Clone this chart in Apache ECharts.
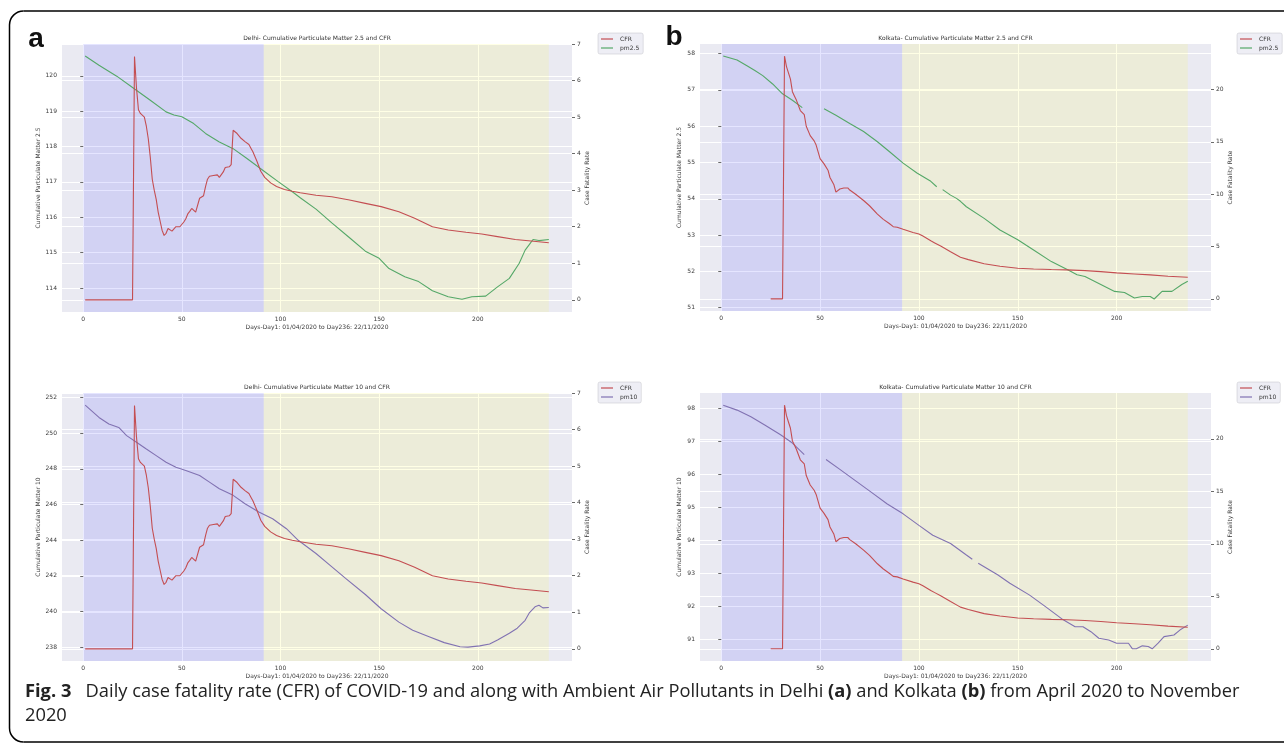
<!DOCTYPE html>
<html><head><meta charset="utf-8">
<script src="https://cdn.jsdelivr.net/npm/echarts@6.0.0/dist/echarts.min.js"></script>
<style>html,body{margin:0;padding:0;background:#fff;overflow:hidden;}#c{width:1284px;height:747px;}</style>
</head><body><div id="c"></div>
<script>
// ---------------- data ----------------
const xTicks = [0, 50, 100, 150, 200];
const delhiPm25Ticks = [114, 115, 116, 117, 118, 119, 120];
const delhiPm10Ticks = [238, 240, 242, 244, 246, 248, 250, 252];
const delhiCfrTicks = [0, 1, 2, 3, 4, 5, 6, 7];
const kolkataPm25Ticks = [51, 52, 53, 54, 55, 56, 57, 58];
const kolkataPm10Ticks = [91, 92, 93, 94, 95, 96, 97, 98];
const kolkataCfrTicks = [0, 5, 10, 15, 20];

const delhiCfrDays = [1,25,26,27,28,29,31,32,33,34,35,36,37,38,39,40,41,42,43,44,45,46,47,48,49,50,51,52,53,54,55,56,57,58,59,60,61,62,63,64,66,68,69,70,71,72,73,74,75,76,77,78,80,82,84,85,86,88,90,92,95,98,102,106,110,118,126,135,143,151,160,168,177,185,194,202,210,219,227,236];
const delhiCfr = [0,0,6.66,5.8,5.2,5.1,5.0,4.75,4.4,3.9,3.3,3.0,2.75,2.4,2.15,1.9,1.76,1.82,1.95,1.92,1.88,1.85,2.0,2.04,2.0,2.02,2.13,2.22,2.35,2.42,2.5,2.45,2.4,2.37,2.78,2.8,2.85,3.1,3.3,3.38,3.4,3.42,3.35,3.38,3.5,3.62,3.66,3.64,3.7,4.64,4.6,4.55,4.42,4.33,4.25,4.15,4.05,3.8,3.52,3.35,3.2,3.1,3.02,2.97,2.93,2.86,2.82,2.73,2.64,2.55,2.41,2.23,2.0,1.91,1.85,1.8,1.73,1.65,1.61,1.56];

const delhiPm25Days = [1,8,17,25,34,42,46,50,56,62,69,76,83,91,99,106,110,118,126,135,143,150,155,163,170,177,185,192,197,204,210,216,221,224,226,228,231,236];
const delhiPm25 = [120.56,120.3,119.99,119.67,119.31,118.98,118.89,118.84,118.65,118.37,118.13,117.94,117.66,117.33,117.0,116.72,116.55,116.23,115.84,115.42,115.04,114.84,114.55,114.32,114.18,113.92,113.75,113.68,113.75,113.77,114.03,114.27,114.7,115.07,115.22,115.37,115.34,115.37];

const delhiPm10Days = [1,8,13,18,22,27,32,37,42,47,52,59,64,69,76,82,89,96,103,109,118,125,133,143,151,160,167,175,183,191,195,201,206,210,216,220,224,226,229,231,233,236];
const delhiPm10 = [251.57,250.88,250.51,250.32,249.86,249.49,249.11,248.74,248.37,248.09,247.9,247.62,247.25,246.88,246.51,246.04,245.58,245.2,244.64,243.99,243.25,242.6,241.85,240.95,240.15,239.4,238.95,238.6,238.25,238.02,238.0,238.07,238.17,238.4,238.78,239.06,239.5,239.9,240.26,240.35,240.2,240.22];

const kolkataCfrDays = [25,31,32,33,34,35,36,37,38,40,42,43,45,47,48,50,52,54,55,57,58,60,62,64,65,68,72,75,79,82,85,87,89,90,92,97,100,102,106,108,111,116,121,125,133,141,150,158,167,175,184,192,200,209,217,226,236];
const kolkataCfr = [0,0,23.2,22.2,21.6,21.0,19.8,19.4,19.0,18.0,17.6,16.5,15.6,15.1,14.7,13.4,12.9,12.3,11.6,10.9,10.2,10.5,10.6,10.6,10.4,10.0,9.4,8.9,8.1,7.6,7.2,6.9,6.85,6.95,6.65,6.35,6.2,6.0,5.55,5.35,5.05,4.5,3.97,3.75,3.35,3.12,2.93,2.86,2.8,2.77,2.7,2.6,2.48,2.38,2.29,2.16,2.06];

const kolkataPm25Days = [1,8,13,17,21,26,31,36,41,42,52,58,65,72,79,85,92,99,106,109,110,112,116,119,121,124,133,141,150,158,167,175,180,184,192,199,204,209,213,217,219,223,228,233,236];
const kolkataPm25 = [57.93,57.82,57.66,57.53,57.39,57.16,56.89,56.71,56.51,null,56.48,56.3,56.07,55.85,55.57,55.3,54.98,54.71,54.48,54.33,null,54.25,54.1,54.01,53.93,53.78,53.46,53.14,52.87,52.59,52.27,52.05,51.91,51.86,51.64,51.45,51.42,51.27,51.31,51.31,51.24,51.45,51.45,51.64,51.73];

const kolkataPm10Days = [1,8,15,22,30,36,42,43,53,60,68,76,84,92,100,107,116,124,127,128,130,140,146,156,164,173,179,183,187,191,196,200,206,208,210,213,216,218,221,224,229,232,236];
const kolkataPm10 = [98.1,97.95,97.75,97.5,97.2,96.95,96.6,null,96.45,96.15,95.8,95.45,95.1,94.8,94.45,94.15,93.9,93.55,93.42,null,93.3,92.94,92.69,92.33,91.98,91.58,91.37,91.37,91.22,91.02,90.97,90.87,90.87,90.7,90.7,90.79,90.77,90.7,90.87,91.07,91.12,91.27,91.42];

const spanBlue = [0, 91.5];
const spanYellow = [91.5, 236];

// ---------------- styling / layout ----------------
const FONT = 'DejaVu Sans';
const tickFont = {fontFamily: FONT, fontSize: 6, color: '#3a3a3a'};
const RED = '#C44E52', GREEN = '#55A868', PURPLE = '#8172B2';
const xName = 'Days-Day1: 01/04/2020 to Day236: 22/11/2020';
const grids = [
  {left: 62, top: 44, width: 510, height: 268},
  {left: 700, top: 44, width: 511, height: 267},
  {left: 62, top: 393, width: 510, height: 268},
  {left: 700, top: 393, width: 511, height: 268}
];

function pairs(d, v) { return d.map((x, i) => [x, v[i] == null ? '-' : v[i]]); }

function xAx(g) {
  return {type: 'value', gridIndex: g, min: -10.75, max: 247.75,
    axisLine: {show: false}, axisTick: {show: false, customValues: xTicks},
    axisLabel: Object.assign({customValues: xTicks, margin: 4}, tickFont),
    splitLine: {show: true, lineStyle: {color: '#ffffff', width: 1}},
    name: xName, nameLocation: 'middle', nameGap: 12, nameTextStyle: Object.assign({}, tickFont)};
}
function yAx(g, side, min, max, ticks, name, nameGap) {
  return {type: 'value', gridIndex: g, position: side, min: min, max: max,
    axisLine: {show: false},
    axisTick: {show: true, length: 3, customValues: ticks, lineStyle: {color: '#444', width: 0.8}},
    axisLabel: Object.assign({customValues: ticks, margin: 5}, tickFont),
    splitLine: {show: true, lineStyle: {color: '#ffffff', width: 1}},
    name: name, nameLocation: 'middle', nameGap: nameGap, nameRotate: 90,
    nameTextStyle: Object.assign({}, tickFont)};
}
function line(name, xi, yi, pts, color, z) {
  return {type: 'line', name: name, xAxisIndex: xi, yAxisIndex: yi, data: pts,
    showSymbol: false, symbol: 'none', connectNulls: false, z: z,
    lineStyle: {color: color, width: 1.1}, itemStyle: {color: color}, emphasis: {disabled: true}};
}
function spans(xi, yi) {
  return {type: 'line', xAxisIndex: xi, yAxisIndex: yi, data: [], silent: true, z: 1,
    markArea: {silent: true, data: [
      [{xAxis: spanBlue[0], itemStyle: {color: 'rgba(0,0,255,0.1)'}}, {xAxis: spanBlue[1]}],
      [{xAxis: spanYellow[0], itemStyle: {color: 'rgba(255,255,0,0.1)'}}, {xAxis: spanYellow[1]}]
    ]}};
}
function legendAt(left, top, names) {
  return {data: names, left: left, top: top, orient: 'vertical', icon: 'rect',
    itemWidth: 12, itemHeight: 1.2, itemGap: 3, padding: [3, 4, 3, 3],
    backgroundColor: 'rgba(234,234,242,0.8)', borderColor: 'rgba(200,200,205,0.9)',
    borderWidth: 0.6, borderRadius: 2, selectedMode: false,
    textStyle: {fontFamily: FONT, fontSize: 6, color: '#333', padding: [0, 0, 0, 2]}};
}
function textEl(x, y, text, size, extra) {
  return Object.assign({type: 'text', x: x, y: y, silent: true,
    style: Object.assign({text: text, fontFamily: FONT, fontSize: size, fill: '#333',
      align: 'center', verticalAlign: 'middle', textAlign: 'center', textVerticalAlign: 'middle'}, extra || {})});
}
const frameStyle = {fill: 'none', stroke: '#000', lineWidth: 1.5};
const CAP = 'Open Sans', CAPSIZE = 18.3;

const option = {
  animation: false,
  backgroundColor: '#ffffff',
  textStyle: {fontFamily: FONT},
  grid: grids.map(g => Object.assign({show: true, backgroundColor: '#EAEAF2', borderWidth: 0, containLabel: false}, g)),
  xAxis: [xAx(0), xAx(1), xAx(2), xAx(3)],
  yAxis: [
    yAx(0, 'left', 113.32, 120.9, delhiPm25Ticks, 'Cumulative Particulate Matter 2.5', 19),
    yAx(0, 'right', -0.333, 7.0, delhiCfrTicks, 'Case Fatality Rate', 10),
    yAx(1, 'left', 50.91, 58.26, kolkataPm25Ticks, 'Cumulative Particulate Matter 2.5', 18),
    yAx(1, 'right', -1.16, 24.36, kolkataCfrTicks, 'Case Fatality Rate', 12),
    yAx(2, 'left', 237.22, 252.25, delhiPm10Ticks, 'Cumulative Particulate Matter 10', 19),
    yAx(2, 'right', -0.333, 7.0, delhiCfrTicks, 'Case Fatality Rate', 10),
    yAx(3, 'left', 90.33, 98.47, kolkataPm10Ticks, 'Cumulative Particulate Matter 10', 18),
    yAx(3, 'right', -1.16, 24.36, kolkataCfrTicks, 'Case Fatality Rate', 12)
  ],
  legend: [
    legendAt(598, 33, ['CFR', 'pm2.5']),
    legendAt(1237, 33, ['CFR', 'pm2.5']),
    legendAt(598, 382, ['CFR', 'pm10']),
    legendAt(1237, 382, ['CFR', 'pm10'])
  ],
  series: [
    spans(0, 0), spans(1, 2), spans(2, 4), spans(3, 6),
    line('pm2.5', 0, 0, pairs(delhiPm25Days, delhiPm25), GREEN, 3),
    line('CFR', 0, 1, pairs(delhiCfrDays, delhiCfr), RED, 4),
    line('pm2.5', 1, 2, pairs(kolkataPm25Days, kolkataPm25), GREEN, 3),
    line('CFR', 1, 3, pairs(kolkataCfrDays, kolkataCfr), RED, 4),
    line('pm10', 2, 4, pairs(delhiPm10Days, delhiPm10), PURPLE, 3),
    line('CFR', 2, 5, pairs(delhiCfrDays, delhiCfr), RED, 4),
    line('pm10', 3, 6, pairs(kolkataPm10Days, kolkataPm10), PURPLE, 3),
    line('CFR', 3, 7, pairs(kolkataCfrDays, kolkataCfr), RED, 4)
  ],
  graphic: [
    {type: 'polyline', silent: true, shape: {points: [[1300, 11], [23.5, 11]]}, style: frameStyle},
    {type: 'arc', silent: true, shape: {cx: 23.5, cy: 25, r: 14, startAngle: Math.PI, endAngle: Math.PI * 1.5, clockwise: true}, style: frameStyle},
    {type: 'polyline', silent: true, shape: {points: [[9.5, 25], [9.5, 728]]}, style: frameStyle},
    {type: 'arc', silent: true, shape: {cx: 23.5, cy: 728, r: 14, startAngle: Math.PI * 0.5, endAngle: Math.PI, clockwise: true}, style: frameStyle},
    {type: 'polyline', silent: true, shape: {points: [[23.5, 742], [1300, 742]]}, style: frameStyle},
    textEl(36, 39, 'a', 28, {fontFamily: 'Liberation Sans', fontWeight: 'bold', fill: '#111'}),
    textEl(674, 37, 'b', 28, {fontFamily: 'Liberation Sans', fontWeight: 'bold', fill: '#111'}),
    textEl(317, 38.5, 'Delhi- Cumulative Particulate Matter 2.5 and CFR', 6),
    textEl(955.5, 38.5, 'Kolkata- Cumulative Particulate Matter 2.5 and CFR', 6),
    textEl(317, 387, 'Delhi- Cumulative Particulate Matter 10 and CFR', 6),
    textEl(955.5, 387, 'Kolkata- Cumulative Particulate Matter 10 and CFR', 6),
    {type: 'text', x: 25, y: 692, silent: true, style: {
      text: '{b|Fig. 3}{n|   Daily case fatality rate (CFR) of COVID-19 and along with Ambient Air Pollutants in Delhi }{b|(a)}{n| and Kolkata }{b|(b)}{n| from April 2020 to November}',
      fontFamily: CAP, fontSize: CAPSIZE, fill: '#222', verticalAlign: 'middle', textVerticalAlign: 'middle',
      rich: {b: {fontFamily: CAP, fontSize: CAPSIZE, fontWeight: 'bold', fill: '#222'},
             n: {fontFamily: CAP, fontSize: CAPSIZE, fill: '#222'}}}},
    {type: 'text', x: 25, y: 716, silent: true, style: {text: '2020', fontFamily: CAP, fontSize: CAPSIZE,
      fill: '#222', verticalAlign: 'middle', textVerticalAlign: 'middle'}}
  ]
};

const chart = echarts.init(document.getElementById('c'), null, {renderer: 'canvas', width: 1284, height: 747});
chart.setOption(option);
</script></body></html>
